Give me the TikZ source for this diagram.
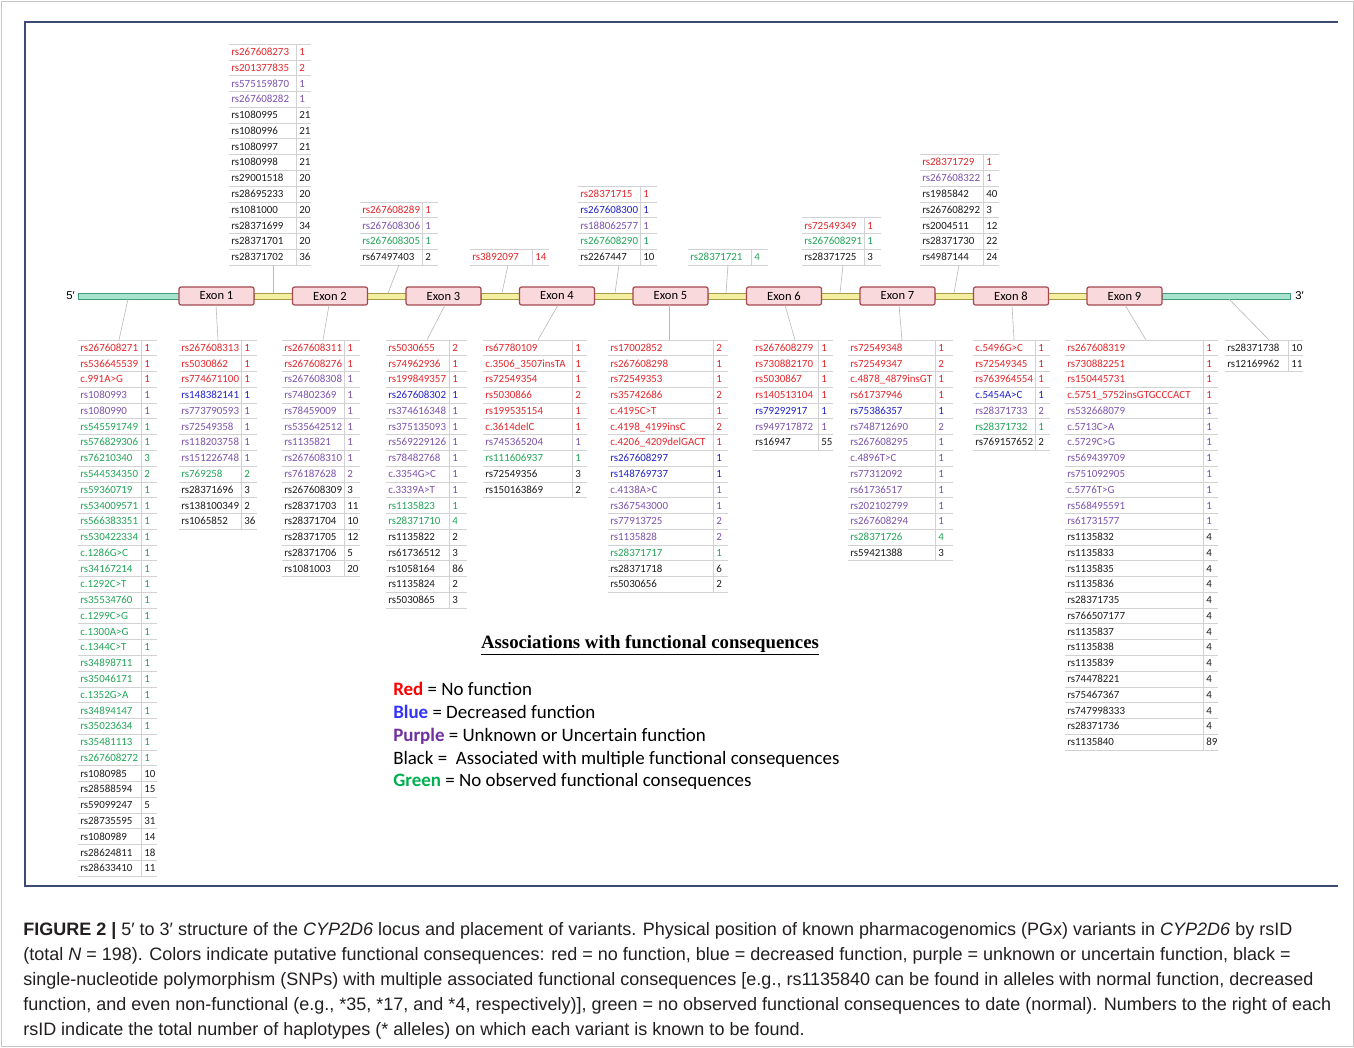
\documentclass[tikz,border=0pt]{standalone}
\usepackage{fontspec}
\setmainfont{Carlito}
\newfontfamily\titlefont{Liberation Serif}
\newfontfamily\capfont{Liberation Sans}
\definecolor{tred}{HTML}{E3262B}
\definecolor{tblue}{HTML}{2222C8}
\definecolor{tpurple}{HTML}{7D52AE}
\definecolor{tgreen}{HTML}{22A557}
\definecolor{tblack}{HTML}{1C1C1C}
\definecolor{lred}{HTML}{FF0000}
\definecolor{lblue}{HTML}{3333FF}
\definecolor{lpurple}{HTML}{7030A0}
\definecolor{lgreen}{HTML}{00B050}
\definecolor{exfill}{HTML}{F9D9DC}
\definecolor{exdraw}{HTML}{A4484E}
\definecolor{infill}{HTML}{F4EFA0}
\definecolor{indraw}{HTML}{A89B45}
\definecolor{utrfill}{HTML}{A8E4CD}
\definecolor{utrdraw}{HTML}{3E9D7C}
\definecolor{frame}{HTML}{3B4B72}
\definecolor{captext}{HTML}{231F20}
\tikzset{
  cell/.style={anchor=west,inner sep=0pt,text height=5.2pt,text depth=0pt,font=\fontsize{8.2}{9}\selectfont},
  rowline/.style={draw=gray!35,line width=0.6pt},
  leader/.style={draw=gray!55,line width=0.45pt},
  exon/.style={draw=exdraw,fill=exfill,line width=0.9pt,rounded corners=1.5pt,minimum width=56.25pt,minimum height=13.5pt,inner sep=0pt,font=\fontsize{9.4}{10}\selectfont},
  intronbar/.style={draw=indraw,fill=infill,line width=0.6pt},
  utrbar/.style={draw=utrdraw,fill=utrfill,line width=0.6pt},
  legline/.style={anchor=base west,inner sep=0pt,font=\fontsize{14.2}{16}\selectfont},
  capline/.style={anchor=base west,inner sep=0pt,text=captext,font=\capfont\fontsize{13.5}{15}\selectfont}
}
\newcommand{\snptab}[6]{%
  \foreach [count=\i] \cl/\nm/\ct in {#6}{%
    \pgfmathsetmacro\ya{#5+(\i-1)*15.77}%
    \pgfmathsetmacro\yb{#5+\i*15.77}%
    \pgfmathsetmacro\ym{#5+(\i-0.5)*15.77}%
    \node[cell,text=\cl] (#1-\i) at (#2+2,\ym) {\nm};
    \node[cell,text=\cl] (#1-\i-n) at (#3+3,\ym) {\ct};
    \draw[rowline] (#2,\yb) -- (#4,\yb);
    \draw[rowline] (#3,\ya) -- (#3,\yb);
  }%
  \draw[rowline] (#2,#5) -- (#4,#5);
}
\begin{document}
\begin{tikzpicture}[x=0.75pt,y=-0.75pt]
\useasboundingbox (0,0) rectangle (1354,1047);
\fill[white] (0,0) rectangle (1354,1047);
\draw[gray!45,line width=0.6pt] (1,1) rectangle (1353,1046);
% panel frame
\draw[frame,line width=0.8pt] (1338,22) -- (25,22) -- (25,886) -- (1338,886);

% gene model
\draw[utrbar] (78,293) rectangle (179,299);
\draw[utrbar] (1162,293) rectangle (1290,299);
\foreach \k in {1,...,8}{
  \pgfmathsetmacro\xa{216.5+(\k-1)*113.5+37.5}
  \pgfmathsetmacro\xb{216.5+\k*113.5-37.5}
  \draw[intronbar] (\xa,293) rectangle (\xb,299);
}
\foreach \k in {1,...,9}{
  \node[exon] (ex\k) at (216.5+\k*113.5-113.5,296) {Exon \k};
}
\node[anchor=east,inner sep=0pt,font=\capfont\fontsize{8.5}{10}\selectfont] (five) at (75,296) {5′};
\node[anchor=west,inner sep=0pt,font=\capfont\fontsize{8.5}{10}\selectfont] (three) at (1295,296) {3′};

% tables above the gene
\snptab{u1}{229}{296}{311}{44.2}{tred/rs267608273/1,tred/rs201377835/2,tpurple/rs575159870/1,tpurple/rs267608282/1,tblack/rs1080995/21,tblack/rs1080996/21,tblack/rs1080997/21,tblack/rs1080998/21,tblack/rs29001518/20,tblack/rs28695233/20,tblack/rs1081000/20,tblack/rs28371699/34,tblack/rs28371701/20,tblack/rs28371702/36}
\snptab{u2}{360}{422}{438}{201.9}{tred/rs267608289/1,tpurple/rs267608306/1,tgreen/rs267608305/1,tblack/rs67497403/2}
\snptab{u3}{470}{532}{549}{249.2}{tred/rs3892097/14}
\snptab{u4}{578}{640}{657}{186.2}{tred/rs28371715/1,tblue/rs267608300/1,tpurple/rs188062577/1,tgreen/rs267608290/1,tblack/rs2267447/10}
\snptab{u5}{688}{751}{768}{249.2}{tgreen/rs28371721/4}
\snptab{u6}{802}{864}{881}{217.7}{tred/rs72549349/1,tgreen/rs267608291/1,tblack/rs28371725/3}
\snptab{u7}{920}{983}{999}{154.6}{tred/rs28371729/1,tpurple/rs267608322/1,tblack/rs1985842/40,tblack/rs267608292/3,tblack/rs2004511/12,tblack/rs28371730/22,tblack/rs4987144/24}

% tables below the gene
\snptab{b0}{78}{141}{157}{340}{tred/rs267608271/1,tred/rs536645539/1,tred/c.991A>G/1,tpurple/rs1080993/1,tpurple/rs1080990/1,tgreen/rs545591749/1,tgreen/rs576829306/1,tgreen/rs76210340/3,tgreen/rs544534350/2,tgreen/rs59360719/1,tgreen/rs534009571/1,tgreen/rs566383351/1,tgreen/rs530422334/1,tgreen/c.1286G>C/1,tgreen/rs34167214/1,tgreen/c.1292C>T/1,tgreen/rs35534760/1,tgreen/c.1299C>G/1,tgreen/c.1300A>G/1,tgreen/c.1344C>T/1,tgreen/rs34898711/1,tgreen/rs35046171/1,tgreen/c.1352G>A/1,tgreen/rs34894147/1,tgreen/rs35023634/1,tgreen/rs35481113/1,tgreen/rs267608272/1,tblack/rs1080985/10,tblack/rs28588594/15,tblack/rs59099247/5,tblack/rs28735595/31,tblack/rs1080989/14,tblack/rs28624811/18,tblack/rs28633410/11}
\snptab{b1}{179}{241}{257}{340}{tred/rs267608313/1,tred/rs5030862/1,tred/rs774671100/1,tblue/rs148382141/1,tpurple/rs773790593/1,tpurple/rs72549358/1,tpurple/rs118203758/1,tpurple/rs151226748/1,tgreen/rs769258/2,tblack/rs28371696/3,tblack/rs138100349/2,tblack/rs1065852/36}
\snptab{b2}{282}{344}{360}{340}{tred/rs267608311/1,tred/rs267608276/1,tpurple/rs267608308/1,tpurple/rs74802369/1,tpurple/rs78459009/1,tpurple/rs535642512/1,tpurple/rs1135821/1,tpurple/rs267608310/1,tpurple/rs76187628/2,tblack/rs267608309/3,tblack/rs28371703/11,tblack/rs28371704/10,tblack/rs28371705/12,tblack/rs28371706/5,tblack/rs1081003/20}
\snptab{b3}{386}{449}{467}{340}{tred/rs5030655/2,tred/rs74962936/1,tred/rs199849357/1,tblue/rs267608302/1,tpurple/rs374616348/1,tpurple/rs375135093/1,tpurple/rs569229126/1,tpurple/rs78482768/1,tpurple/c.3354G>C/1,tpurple/c.3339A>T/1,tgreen/rs1135823/1,tgreen/rs28371710/4,tblack/rs1135822/2,tblack/rs61736512/3,tblack/rs1058164/86,tblack/rs1135824/2,tblack/rs5030865/3}
\snptab{b4}{483}{572}{587}{340}{tred/rs67780109/1,tred/c.3506\_3507insTA/1,tred/rs72549354/1,tred/rs5030866/2,tred/rs199535154/1,tred/c.3614delC/1,tpurple/rs745365204/1,tgreen/rs111606937/1,tblack/rs72549356/3,tblack/rs150163869/2}
\snptab{b5}{608}{713}{728}{340}{tred/rs17002852/2,tred/rs267608298/1,tred/rs72549353/1,tred/rs35742686/2,tred/c.4195C>T/1,tred/c.4198\_4199insC/2,tred/c.4206\_4209delGACT/1,tblue/rs267608297/1,tblue/rs148769737/1,tpurple/c.4138A>C/1,tpurple/rs367543000/1,tpurple/rs77913725/2,tpurple/rs1135828/2,tgreen/rs28371717/1,tblack/rs28371718/6,tblack/rs5030656/2}
\snptab{b6}{753}{818}{833}{340}{tred/rs267608279/1,tred/rs730882170/1,tred/rs5030867/1,tred/rs140513104/1,tblue/rs79292917/1,tpurple/rs949717872/1,tblack/rs16947/55}
\snptab{b7}{848}{935}{953}{340}{tred/rs72549348/1,tred/rs72549347/2,tred/c.4878\_4879insGT/1,tred/rs61737946/1,tblue/rs75386357/1,tpurple/rs748712690/2,tpurple/rs267608295/1,tpurple/c.4896T>C/1,tpurple/rs77312092/1,tpurple/rs61736517/1,tpurple/rs202102799/1,tpurple/rs267608294/1,tgreen/rs28371726/4,tblack/rs59421388/3}
\snptab{b8}{973}{1035}{1050}{340}{tred/c.5496G>C/1,tred/rs72549345/1,tred/rs763964554/1,tblue/c.5454A>C/1,tpurple/rs28371733/2,tgreen/rs28371732/1,tblack/rs769157652/2}
\snptab{b9}{1065}{1203}{1218}{340}{tred/rs267608319/1,tred/rs730882251/1,tred/rs150445731/1,tred/c.5751\_5752insGTGCCCACT/1,tpurple/rs532668079/1,tpurple/c.5713C>A/1,tpurple/c.5729C>G/1,tpurple/rs569439709/1,tpurple/rs751092905/1,tpurple/c.5776T>G/1,tpurple/rs568495591/1,tpurple/rs61731577/1,tblack/rs1135832/4,tblack/rs1135833/4,tblack/rs1135835/4,tblack/rs1135836/4,tblack/rs28371735/4,tblack/rs766507177/4,tblack/rs1135837/4,tblack/rs1135838/4,tblack/rs1135839/4,tblack/rs74478221/4,tblack/rs75467367/4,tblack/rs747998333/4,tblack/rs28371736/4,tblack/rs1135840/89}
\snptab{b10}{1225}{1288}{1303}{340}{tblack/rs28371738/10,tblack/rs12169962/11}

% leader lines: table point -> gene point
\foreach \nm/\tx/\ty/\gx/\gy in {
  u1/273/265/273/293, u2/399/265/388/293, u3/508/265/502/293, u4/619/265/615/293,
  u5/728/265/726/293, u6/843/265/840/293, u7/959/265/954/293,
  b0/119/340/128/299, b1/218/340/216/305, b2/323/340/329/305, b3/427/340/445/305,
  b4/538/340/558/305, b5/669/340/669/305, b6/795/340/785/305, b7/902/340/899/305,
  b8/1014/340/1012/305, b9/1146/340/1125/305, b10/1269/340/1229/299}{
  \coordinate (t\nm) at (\tx,\ty);
  \coordinate (g\nm) at (\gx,\gy);
  \draw[leader] (t\nm) -- (g\nm);
}

% legend
\node[inner sep=0pt,font=\titlefont\bfseries\fontsize{14.1}{16}\selectfont] (legtitle) at (650,645) {\underline{Associations with functional consequences}};
\node[legline] (leg1) at (393,695) {\textcolor{lred}{\textbf{Red}} = No function};
\node[legline] (leg2) at (393,718) {\textcolor{lblue}{\textbf{Blue}} = Decreased function};
\node[legline] (leg3) at (393,741) {\textcolor{lpurple}{\textbf{Purple}} = Unknown or Uncertain function};
\node[legline] (leg4) at (393,764) {Black =\ \ Associated with multiple functional consequences};
\node[legline] (leg5) at (393,786) {\textcolor{lgreen}{\textbf{Green}} = No observed functional consequences};

% caption
\node[capline] (cap1) at (23,935) {\textbf{FIGURE 2 |} 5′ to 3′ structure of the \textit{CYP2D6} locus and placement of variants. Physical position of known pharmacogenomics (PGx) variants in \textit{CYP2D6} by rsID};
\node[capline] (cap2) at (23,960) {(total \textit{N} = 198). Colors indicate putative functional consequences: red = no function, blue = decreased function, purple = unknown or uncertain function, black =};
\node[capline] (cap3) at (23,985) {single-nucleotide polymorphism (SNPs) with multiple associated functional consequences [e.g., rs1135840 can be found in alleles with normal function, decreased};
\node[capline] (cap4) at (23,1010) {function, and even non-functional (e.g., *35, *17, and *4, respectively)], green = no observed functional consequences to date (normal). Numbers to the right of each};
\node[capline] (cap5) at (23,1035) {rsID indicate the total number of haplotypes (* alleles) on which each variant is known to be found.};
\end{tikzpicture}
\end{document}
